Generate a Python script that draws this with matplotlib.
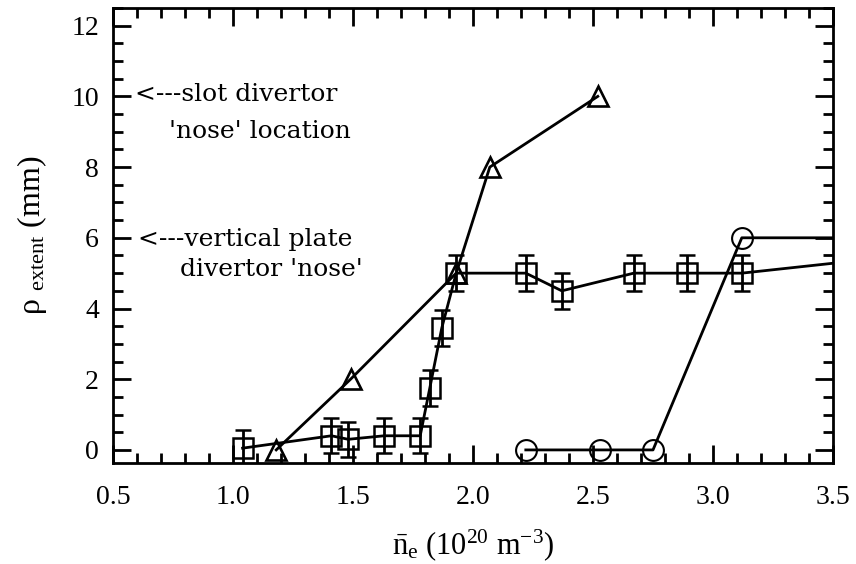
import matplotlib
matplotlib.use('Agg')
import matplotlib.pyplot as plt
from matplotlib.ticker import MultipleLocator

# squares (with +/- error bars)
sq_x = [1.04, 1.41, 1.48, 1.63, 1.78, 1.82, 1.87, 1.93, 2.22, 2.37, 2.67, 2.89, 3.12, 3.50]
sq_y = [0.05, 0.40, 0.30, 0.40, 0.40, 1.75, 3.45, 5.00, 5.00, 4.50, 5.00, 5.00, 5.00, 5.28]
sq_err = 0.5
n_sq = 13  # last point only continues the line past the frame

# triangles
tri_x = [1.18, 1.49, 1.93, 2.07, 2.52]
tri_y = [0.0, 2.0, 5.0, 8.0, 10.0]

# circles
circ_x = [2.22, 2.53, 2.75, 3.12, 3.60]
circ_y = [0.0, 0.0, 0.0, 6.0, 6.0]
n_circ = 4

notes = ["<---slot divertor", "'nose' location",
         "<---vertical plate", "divertor 'nose'"]
note_x = [0.59, 0.735, 0.605, 0.78]
note_y = [10.05, 9.0, 5.95, 5.1]

serif = 'Liberation Serif'
plt.rcParams['font.family'] = 'serif'
plt.rcParams['font.serif'] = [serif]
plt.rc('mathtext', fontset='custom', rm=serif, it=serif + ':italic')

fig = plt.figure(figsize=(8.56, 5.64), dpi=100)
ax = fig.add_axes([113 / 856, 101 / 564, 720 / 856, 455 / 564])

lw = 2.0
ax.plot(sq_x, sq_y, color='black', linewidth=lw)
ax.errorbar(sq_x[:n_sq], sq_y[:n_sq], yerr=sq_err, fmt='s', mfc='none',
            mec='black', ms=14, mew=1.8, ecolor='black', elinewidth=2.0,
            capsize=5.5, capthick=2.0)
ax.plot(tri_x, tri_y, color='black', linewidth=lw)
ax.plot(tri_x, tri_y, '^', mfc='none', mec='black', ms=15, mew=1.9)
ax.plot(circ_x, circ_y, color='black', linewidth=lw)
ax.plot(circ_x[:n_circ], circ_y[:n_circ], 'o', mfc='none', mec='black',
        ms=15, mew=1.5)

ax.set_xlim(0.5, 3.5)
ax.set_ylim(-0.37, 12.5)
ax.xaxis.set_major_locator(MultipleLocator(0.5))
ax.xaxis.set_minor_locator(MultipleLocator(0.1))
ax.yaxis.set_major_locator(MultipleLocator(2))
ax.yaxis.set_minor_locator(MultipleLocator(0.5))
ax.xaxis.set_major_formatter(plt.FormatStrFormatter('%.1f'))
ax.tick_params(which='both', direction='in', top=True, right=True, width=2)
ax.tick_params(which='major', length=13, labelsize=20)
ax.tick_params(which='minor', length=7)
ax.tick_params(axis='x', which='major', pad=16)
ax.tick_params(axis='y', which='major', pad=10)
for lbl in ax.get_xticklabels() + ax.get_yticklabels():
    lbl.set_fontfamily(serif)
for s in ax.spines.values():
    s.set_linewidth(2)

ax.set_xlabel(r'$\bar{\mathregular{n}}_\mathregular{e}$ (10$^{20}$ m$^{-3}$)',
              fontsize=22, labelpad=12, fontfamily=serif)
ax.set_ylabel(r'ρ $_{\mathregular{extent}}$ (mm)', fontsize=23, labelpad=16,
              fontfamily=serif)

for t, x, y in zip(notes, note_x, note_y):
    ax.text(x, y, t, fontsize=18, fontfamily='DejaVu Serif', va='center')

fig.savefig('out.png', dpi=100)
